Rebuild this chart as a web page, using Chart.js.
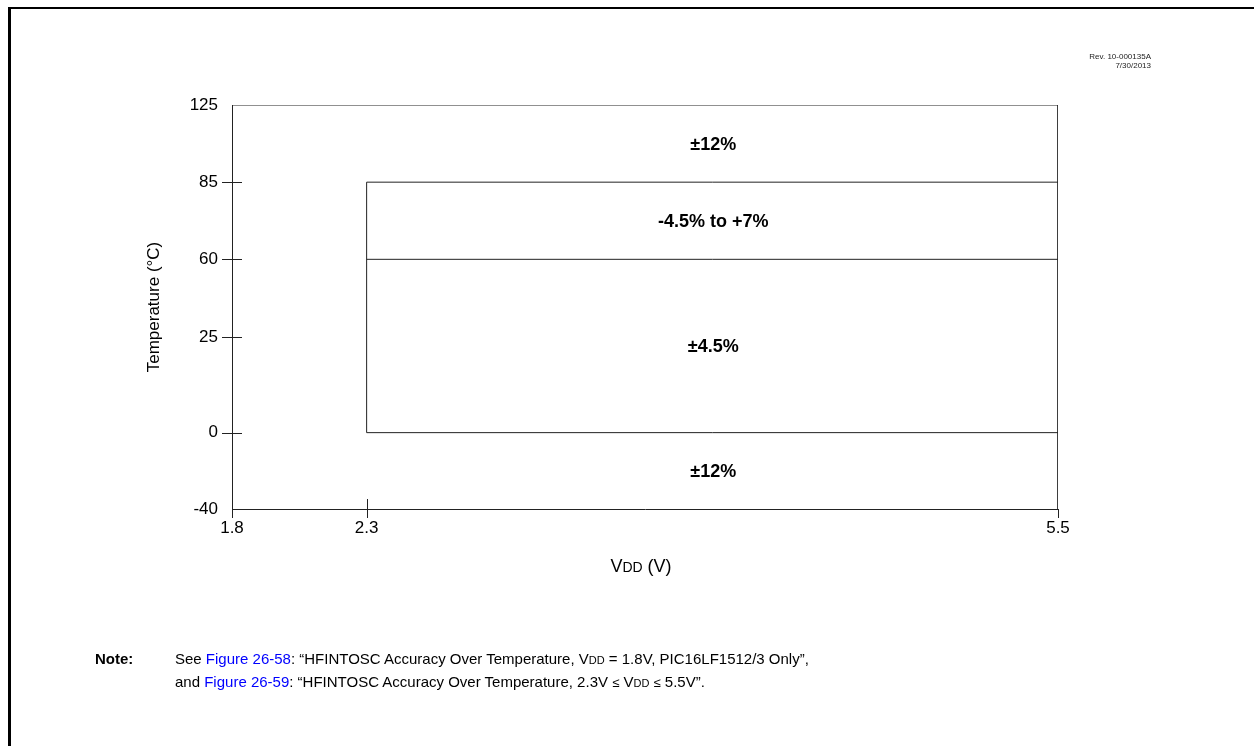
<!DOCTYPE html>
<html>
<head>
<meta charset="utf-8">
<script src="https://cdn.jsdelivr.net/npm/chart.js@4.4.0/dist/chart.umd.min.js"></script>
<style>
  body { margin: 0; background: #fff; font-family: Arial, "Liberation Sans", sans-serif; }
  #wrap { position: relative; width: 1254px; height: 746px; overflow: hidden; }
  #frame { position: absolute; left: 8px; top: 7px; width: 1400px; height: 900px;
           border-left: 3px solid #000; border-top: 2px solid #000; }
  #chart { position: absolute; left: 0; top: 0; }
  #rev { position: absolute; left: 1050px; width: 101px; top: 52px; font-size: 8px; line-height: 9px;
         text-align: right; color: #222; }
  #note { position: absolute; left: 95px; top: 648px; font-size: 15px; line-height: 21px; color: #000; }
  #note b { position: absolute; left: 0; top: 0; }
  #note div { margin-left: 80px; white-space: nowrap; }
  #note a { color: #0000ff; text-decoration: none; }
  .sc { font-size: 11px; }
  .le { font-size: 13px; }
</style>
</head>
<body>
<div id="wrap">
  <div id="frame"></div>
  <canvas id="chart" width="1254" height="746"></canvas>
  <div id="rev">Rev. 10-000135A<br>7/30/2013</div>
  <div id="note">
    <b>Note:</b>
    <div>See <a>Figure 26-58</a>: “HFINTOSC Accuracy Over Temperature, V<span class="sc">DD</span> = 1.8V, PIC16LF1512/3 Only”,</div>
    <div>and <a>Figure 26-59</a>: “HFINTOSC Accuracy Over Temperature, 2.3V <span class="le">≤</span> V<span class="sc">DD</span> <span class="le">≤</span> 5.5V”.</div>
  </div>
</div>
<script>
// axis ticks (the axes are not linear, so each tick has its place along the axis, 0..1)
const vddTicks = [1.8, 2.3, 5.5];
const vddTickPos = [0, 0.163, 1];
const tempTicks = [-40, 0, 25, 60, 85, 125];
const tempTickPos = [0, 0.189, 0.426, 0.618, 0.809, 1];

// accuracy band
const bandVdd = [2.3, 5.5];
const bandEdges = [0, 60, 85];

// zones and their labels
const zoneLabels = ['±12%', '-4.5% to +7%', '±4.5%', '±12%'];
const zoneHigh = [125, 85, 60, 0];
const zoneLow = [85, 60, 0, -40];

const FONT = 'Arial, "Liberation Sans", sans-serif';

function interp(v, vals, pos) {
    for (let i = 0; i < vals.length - 1; i++) {
        if (v <= vals[i + 1]) {
            return pos[i] + (v - vals[i]) / (vals[i + 1] - vals[i]) * (pos[i + 1] - pos[i]);
        }
    }
    return pos[pos.length - 1];
}
const px = v => interp(v, vddTicks, vddTickPos);
const py = t => interp(t, tempTicks, tempTickPos);
const pt = (v, t) => ({ x: px(v), y: py(t) });

const lineColor = '#222';
const seg = (data) => ({
    data: data,
    showLine: true,
    borderColor: lineColor,
    borderWidth: 1,
    pointRadius: 0,
    fill: false,
});

const vMin = vddTicks[0], vMax = vddTicks[vddTicks.length - 1];
const tMin = tempTicks[0], tMax = tempTicks[tempTicks.length - 1];
const topEdge = bandEdges[bandEdges.length - 1];

const datasets = [
    // outer top and right side
    seg([pt(vMin, tMax), pt(vMax, tMax), pt(vMax, tMin)]),
    // band left side and top
    seg([pt(bandVdd[0], bandEdges[0]), pt(bandVdd[0], topEdge), pt(bandVdd[1], topEdge)]),
];
bandEdges.slice(0, -1).forEach(t => {
    datasets.push(seg([pt(bandVdd[0], t), pt(bandVdd[1], t)]));
});

const extras = {
    id: 'extras',
    afterDatasetsDraw(chart) {
        const ctx = chart.ctx;
        const xs = chart.scales.x, ys = chart.scales.y;
        const area = chart.chartArea;
        ctx.save();
        ctx.strokeStyle = lineColor;
        ctx.lineWidth = 1;
        ctx.beginPath();
        // crossing ticks on temperature axis
        tempTicks.slice(1, -1).forEach(t => {
            const y = Math.round(ys.getPixelForValue(py(t))) + 0.5;
            ctx.moveTo(area.left - 10, y);
            ctx.lineTo(area.left + 10, y);
        });
        // ticks on VDD axis
        vddTicks.forEach((v, i) => {
            const x = Math.round(xs.getPixelForValue(px(v))) + 0.5;
            const inner = (i === 0 || i === vddTicks.length - 1) ? 0 : 10;
            ctx.moveTo(x, area.bottom - inner);
            ctx.lineTo(x, area.bottom + 9);
        });
        ctx.stroke();

        // zone labels
        ctx.fillStyle = '#000';
        ctx.font = 'bold 18px ' + FONT;
        ctx.textAlign = 'center';
        ctx.textBaseline = 'middle';
        const cx = (xs.getPixelForValue(px(bandVdd[0])) + xs.getPixelForValue(px(bandVdd[1]))) / 2;
        zoneLabels.forEach((lab, i) => {
            const cy = (ys.getPixelForValue(py(zoneHigh[i])) + ys.getPixelForValue(py(zoneLow[i]))) / 2;
            ctx.fillText(lab, cx + 1, cy + 1);
        });

        // x axis title with small caps DD
        const parts = [['V', 18], ['DD', 14], [' (V)', 18]];
        let w = 0;
        parts.forEach(p => { ctx.font = p[1] + 'px ' + FONT; w += ctx.measureText(p[0]).width; });
        let x = (area.left + area.right) / 2 - w / 2 - 4;
        ctx.textAlign = 'left';
        ctx.textBaseline = 'alphabetic';
        parts.forEach(p => {
            ctx.font = p[1] + 'px ' + FONT;
            ctx.fillText(p[0], x, 572);
            x += ctx.measureText(p[0]).width;
        });
        ctx.restore();
    }
};

new Chart(document.getElementById('chart'), {
    type: 'scatter',
    data: { datasets: datasets },
    options: {
        responsive: false,
        animation: false,
        layout: { padding: { left: 140, top: 105, right: 196, bottom: 0 } },
        plugins: { legend: { display: false }, tooltip: { enabled: false } },
        scales: {
            x: {
                type: 'linear',
                min: 0,
                max: 1,
                afterFit: (s) => { s.height = 237; },
                afterBuildTicks: (s) => { s.ticks = vddTickPos.map(v => ({ value: v })); },
                grid: { display: false, drawTicks: false },
                border: { display: true, color: lineColor, width: 1 },
                ticks: {
                    autoSkip: false,
                    maxRotation: 0,
                    padding: 9,
                    color: '#000',
                    font: { family: FONT, size: 17 },
                    callback: (val, i) => vddTicks[i],
                },
            },
            y: {
                type: 'linear',
                min: 0,
                max: 1,
                afterFit: (s) => { s.width = 92; },
                afterBuildTicks: (s) => { s.ticks = tempTickPos.map(v => ({ value: v })); },
                grid: { display: false, drawTicks: false },
                border: { display: true, color: lineColor, width: 1 },
                title: {
                    display: true,
                    text: 'Temperature (°C)',
                    color: '#000',
                    font: { family: FONT, size: 17 },
                },
                ticks: {
                    autoSkip: false,
                    padding: 14,
                    color: '#000',
                    font: { family: FONT, size: 17 },
                    callback: (val, i) => tempTicks[i],
                },
            },
        },
    },
    plugins: [extras],
});
</script>
</body>
</html>
